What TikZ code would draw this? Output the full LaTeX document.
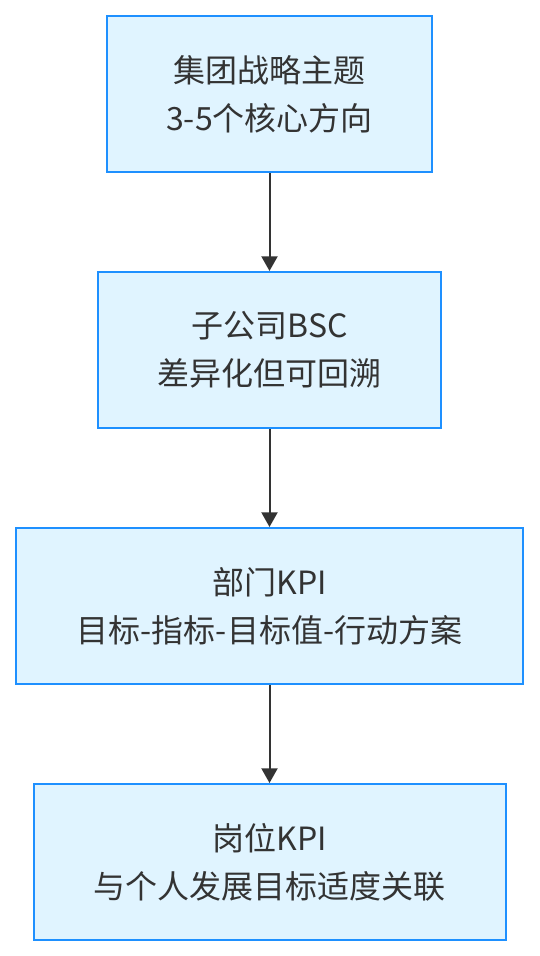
\documentclass[tikz,border=0pt]{standalone}
\usepackage{fontspec}
\setmainfont{Noto Sans CJK SC}
\usetikzlibrary{positioning,arrows.meta}
\definecolor{boxfill}{RGB}{224,244,255}
\definecolor{boxline}{RGB}{30,144,255}
\definecolor{textgray}{RGB}{51,51,51}

\begin{document}
\begin{tikzpicture}[x=0.75pt,y=-0.75pt]
\tikzset{level box/.style={draw=boxline,line width=1.5pt,fill=boxfill,minimum width=#1,minimum height=117pt,align=center,inner sep=0pt,font=\fontsize{24}{36}\selectfont,text=textgray},
flow arrow/.style={draw=textgray,line width=1.5pt,-{Triangle[width=12pt,length=11pt]}}}
\useasboundingbox (0,0) rectangle (539,956);
% Niveles
\node [level box=243.75pt] (grupo) at (269.5,94) {集团战略主题\\3-5个核心方向};
\node [level box=257.25pt] (filial) at (269.5,350) {子公司BSC\\差异化但可回溯};
\node [level box=380.25pt] (depto) at (269.5,606) {部门KPI\\目标-指标-目标值-行动方案};
\node [level box=354pt] (puesto) at (269.5,862) {岗位KPI\\与个人发展目标适度关联};
% Flechas
\draw [flow arrow] (grupo) -- (filial);
\draw [flow arrow] (filial) -- (depto);
\draw [flow arrow] (depto) -- (puesto);
\end{tikzpicture}
\end{document}
